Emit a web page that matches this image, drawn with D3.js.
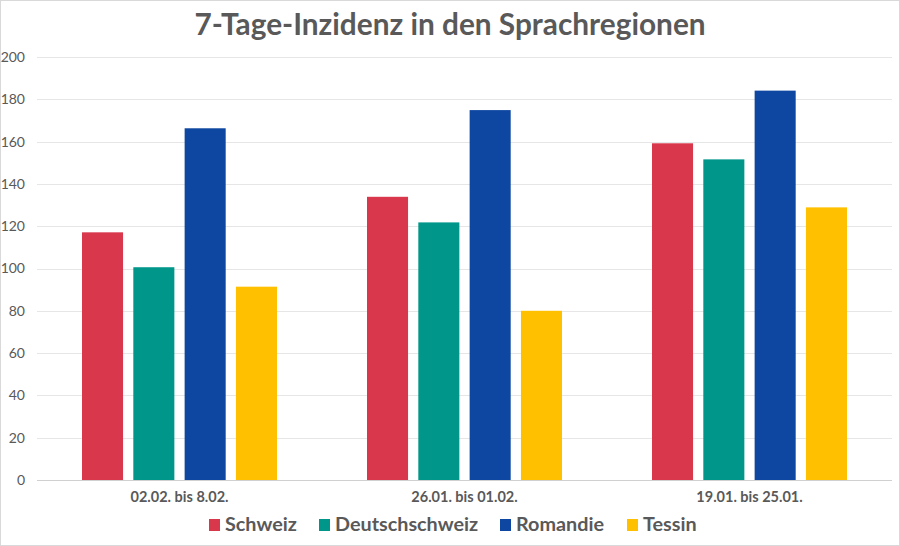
<!DOCTYPE html>
<html><head><meta charset="utf-8">
<script src="https://cdn.jsdelivr.net/npm/d3@7"></script>
<style>
html,body{margin:0;padding:0;background:#fff;}
text{font-family:Lato,"Open Sans",sans-serif;}
</style></head>
<body>
<svg id="chart" width="900" height="546"></svg>
<script>
const title = "7-Tage-Inzidenz in den Sprachregionen";
const categories = ["02.02. bis 8.02.", "26.01. bis 01.02.", "19.01. bis 25.01."];
const seriesNames = ["Schweiz", "Deutschschweiz", "Romandie", "Tessin"];
const schweiz = [117.1, 133.9, 159.2];
const deutschschweiz = [100.6, 121.8, 151.6];
const romandie = [166.3, 174.9, 184.1];
const tessin = [91.4, 80.0, 128.9];
const yTicks = [0, 20, 40, 60, 80, 100, 120, 140, 160, 180, 200];
const colors = ["#D9374B", "#00978A", "#0E47A1", "#FFC000"];

const seriesValues = [schweiz, deutschschweiz, romandie, tessin];
const svg = d3.select("#chart");
const gray = "#595959";

svg.append("rect").attr("x",0.5).attr("y",0.5).attr("width",899).attr("height",545)
  .attr("fill","#fff").attr("stroke","#d9d9d9");

const plot = {left:37, right:892, top:57, bottom:480};
const y = d3.scaleLinear().domain([0,200]).range([plot.bottom, plot.top]);
const x0 = d3.scaleBand().domain(categories).range([plot.left, plot.right]).padding(0);
const x1 = d3.scaleBand().domain(seriesNames).range([45, x0.bandwidth()-45]).paddingInner(0.2).paddingOuter(0);

// gridlines
svg.append("g").selectAll("line").data(yTicks).join("line")
  .attr("x1", plot.left).attr("x2", plot.right)
  .attr("y1", d=>Math.round(y(d))+0.5).attr("y2", d=>Math.round(y(d))+0.5)
  .attr("stroke", d=> d===0 ? "#d0d0d0" : "#e6e6e6").attr("stroke-width",1);

// y axis labels
const yAxis = d3.axisLeft(y).tickValues(yTicks).tickSize(0).tickPadding(0);
const gy = svg.append("g").attr("transform",`translate(25,0)`).call(yAxis);
gy.select(".domain").remove();
gy.selectAll("text").attr("fill",gray).attr("font-size",14).attr("font-family","Lato, sans-serif");

// bars
const groups = svg.append("g").selectAll("g").data(categories).join("g")
  .attr("transform", d=>`translate(${x0(d)},0)`);
groups.selectAll("rect").data((c,i)=>seriesNames.map((s,j)=>({s, v:seriesValues[j][i], j})))
  .join("rect")
  .attr("x", d=>x1(d.s)).attr("width", x1.bandwidth())
  .attr("y", d=>y(d.v)).attr("height", d=>y(0)-y(d.v))
  .attr("fill", d=>colors[d.j]);

// x axis labels
const xAxis = d3.axisBottom(x0).tickSize(0).tickPadding(0);
const gx = svg.append("g").attr("transform",`translate(0,${plot.bottom+22})`).call(xAxis);
gx.select(".domain").remove();
gx.selectAll("text").attr("fill",gray).attr("font-size",14.5).attr("font-weight","bold")
  .attr("font-family","Lato, sans-serif").attr("dy","0");

// title
svg.append("text").attr("x",450).attr("y",35).attr("text-anchor","middle")
  .attr("font-size",29.8).attr("font-weight","bold").attr("fill",gray).text(title);

// legend
const legendX = [209, 319, 500, 627];
const lg = svg.append("g").selectAll("g").data(seriesNames).join("g")
  .attr("transform",(d,i)=>`translate(${legendX[i]},0)`);
lg.append("rect").attr("x",0).attr("y",519).attr("width",11).attr("height",12).attr("fill",(d,i)=>colors[i]);
lg.append("text").attr("x",16).attr("y",531).attr("font-size",19.8).attr("font-weight","bold")
  .attr("fill",gray).text(d=>d);
</script>
</body></html>
